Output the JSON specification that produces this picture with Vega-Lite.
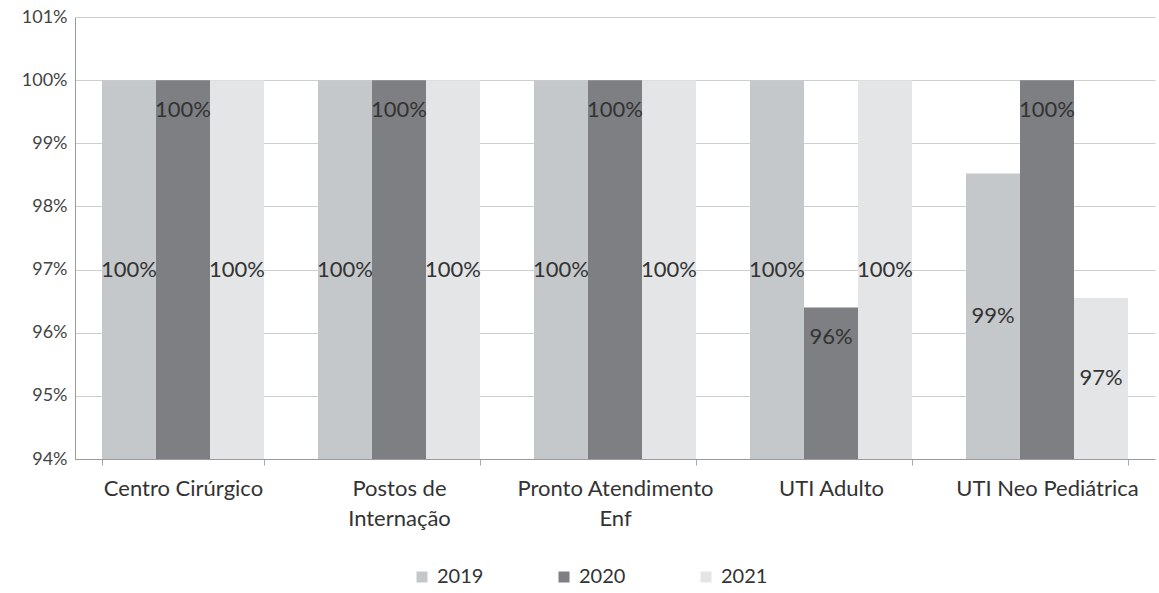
{
  "$schema": "https://vega.github.io/schema/vega-lite/v6.json",
  "width": 1080,
  "height": 442,
  "autosize": {"type": "none"},
  "padding": {"left": 75, "top": 17, "right": 4, "bottom": 134},
  "background": "white",
  "config": {"view": {"stroke": null}, "font": "Lato"},
  "data": {
    "values": [
      {"unit": "Centro Cirúrgico", "year": "2019", "value": 1.0},
      {"unit": "Centro Cirúrgico", "year": "2020", "value": 1.0},
      {"unit": "Centro Cirúrgico", "year": "2021", "value": 1.0},
      {"unit": "Postos de Internação", "year": "2019", "value": 1.0},
      {"unit": "Postos de Internação", "year": "2020", "value": 1.0},
      {"unit": "Postos de Internação", "year": "2021", "value": 1.0},
      {"unit": "Pronto Atendimento Enf", "year": "2019", "value": 1.0},
      {"unit": "Pronto Atendimento Enf", "year": "2020", "value": 1.0},
      {"unit": "Pronto Atendimento Enf", "year": "2021", "value": 1.0},
      {"unit": "UTI Adulto", "year": "2019", "value": 1.0},
      {"unit": "UTI Adulto", "year": "2020", "value": 0.964},
      {"unit": "UTI Adulto", "year": "2021", "value": 1.0},
      {"unit": "UTI Neo Pediátrica", "year": "2019", "value": 0.9852},
      {"unit": "UTI Neo Pediátrica", "year": "2020", "value": 1.0},
      {"unit": "UTI Neo Pediátrica", "year": "2021", "value": 0.9655}
    ]
  },
  "encoding": {
    "x": {
      "field": "unit",
      "type": "nominal",
      "sort": ["Centro Cirúrgico", "Postos de Internação", "Pronto Atendimento Enf", "UTI Adulto", "UTI Neo Pediátrica"],
      "scale": {"paddingInner": 0.25, "paddingOuter": 0.125},
      "axis": {
        "title": null,
        "labelAngle": 0,
        "labelFontSize": 22,
        "labelColor": "#333333",
        "labelPadding": 13,
        "labelLineHeight": 30,
        "labelLimit": 300,
        "labelExpr": "datum.label == 'Postos de Internação' ? ['Postos de', 'Internação'] : datum.label == 'Pronto Atendimento Enf' ? ['Pronto Atendimento', 'Enf'] : datum.label",
        "domainColor": "#9a9a9a",
        "tickBand": "extent",
        "tickColor": "#aaaaaa",
        "tickSize": 6
      }
    },
    "xOffset": {"field": "year", "type": "nominal", "scale": {"domain": ["2019", "2020", "2021"]}}
  },
  "layer": [
    {
      "mark": {"type": "bar", "clip": true},
      "encoding": {
        "y": {
          "field": "value",
          "type": "quantitative",
          "scale": {"domain": [0.94, 1.01], "zero": false, "nice": false},
          "axis": {
            "title": null,
            "format": ".0%",
            "values": [0.94, 0.95, 0.96, 0.97, 0.98, 0.99, 1.0, 1.01],
            "labelFontSize": 18,
            "labelColor": "#444444",
            "labelPadding": 8,
            "ticks": false,
            "domainColor": "#9a9a9a",
            "gridColor": "#cfcfcf"
          }
        },
        "color": {
          "field": "year",
          "type": "nominal",
          "scale": {"domain": ["2019", "2020", "2021"], "range": ["#c5c8cb", "#7d7f82", "#e3e5e7"]},
          "legend": {
            "title": null,
            "orient": "none",
            "direction": "horizontal",
            "legendX": 337,
            "legendY": 550,
            "symbolType": "square",
            "symbolSize": 121,
            "symbolStrokeWidth": 0,
            "labelFontSize": 20,
            "labelColor": "#333333",
            "labelOffset": 5,
            "columnPadding": 70
          }
        }
      }
    },
    {
      "transform": [{"filter": "datum.year == '2020'"}],
      "mark": {"type": "text", "baseline": "middle", "align": "center", "dy": 30, "fontSize": 22, "color": "#333333"},
      "encoding": {
        "y": {"field": "value", "type": "quantitative", "scale": {"domain": [0.94, 1.01], "zero": false, "nice": false}, "axis": null},
        "text": {"field": "value", "type": "quantitative", "format": ".0%"}
      }
    },
    {
      "transform": [{"filter": "datum.year != '2020'"}],
      "mark": {"type": "text", "baseline": "middle", "align": "center", "fontSize": 22, "color": "#333333"},
      "encoding": {
        "y": {"field": "value", "type": "quantitative", "scale": {"domain": [0.94, 1.08], "zero": false, "nice": false}, "axis": null},
        "text": {"field": "value", "type": "quantitative", "format": ".0%"}
      }
    }
  ],
  "resolve": {"scale": {"y": "independent"}}
}
